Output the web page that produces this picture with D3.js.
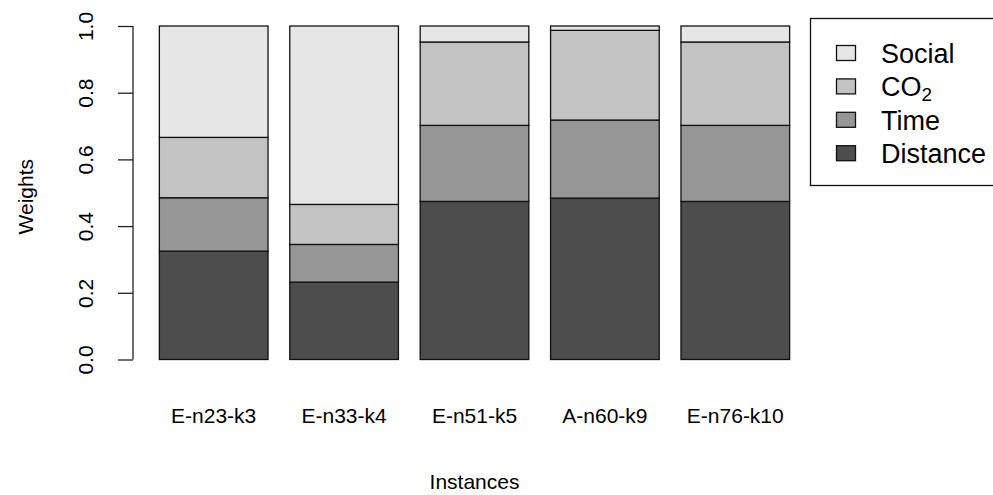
<!DOCTYPE html>
<html>
<head>
<meta charset="utf-8">
<script src="https://cdn.jsdelivr.net/npm/d3@7"></script>
<style>
  body { margin: 0; background: #fff; }
  text { font-family: "Liberation Sans", Arial, sans-serif; fill: #000; }
</style>
</head>
<body>
<div id="chart"></div>
<script>
// Data
const instances = ["E-n23-k3", "E-n33-k4", "E-n51-k5", "A-n60-k9", "E-n76-k10"];
const distance = [0.325, 0.232, 0.474, 0.484, 0.474];
const time = [0.160, 0.113, 0.228, 0.234, 0.228];
const co2 = [0.181, 0.120, 0.250, 0.269, 0.250];
const social = [0.334, 0.535, 0.048, 0.013, 0.048];
const yTicks = [0, 0.2, 0.4, 0.6, 0.8, 1.0];

const seriesKeys = ["Distance", "Time", "CO2", "Social"];
const seriesColors = ["#4d4d4d", "#969696", "#c3c3c3", "#e6e6e6"];

function main() {
    const width = 993, height = 495;

    const svg = d3.select("#chart")
        .append("svg")
        .attr("width", width)
        .attr("height", height);

    // Table for the stack layout
    const table = instances.map((name, i) => ({
        name: name,
        Distance: distance[i],
        Time: time[i],
        CO2: co2[i],
        Social: social[i]
    }));

    const stacked = d3.stack().keys(seriesKeys)(table);

    // Scales
    const x = d3.scaleBand()
        .domain(instances)
        .range([148.5, 800.5])
        .paddingInner(1 / 6)
        .paddingOuter(1 / 12);

    const y = d3.scaleLinear()
        .domain([0, 1])
        .range([359.5, 26]);

    const color = d3.scaleOrdinal().domain(seriesKeys).range(seriesColors);

    // Bars
    svg.append("g")
        .selectAll("g")
        .data(stacked)
        .join("g")
        .attr("fill", d => color(d.key))
        .selectAll("rect")
        .data(d => d)
        .join("rect")
        .attr("x", d => x(d.data.name))
        .attr("y", d => y(d[1]))
        .attr("width", x.bandwidth())
        .attr("height", d => y(d[0]) - y(d[1]))
        .attr("stroke", "#111")
        .attr("stroke-width", 1.3);

    // Y axis
    const yAxis = svg.append("g")
        .attr("transform", "translate(133,0)")
        .call(d3.axisLeft(y).tickValues(yTicks).tickSize(15).tickFormat(d3.format(".1f")));
    yAxis.select(".domain")
        .attr("stroke", "#222")
        .attr("stroke-width", 1.3)
        .attr("d", `M0,${y(0)}V${y(1)}`);
    yAxis.selectAll(".tick line").attr("stroke", "#222").attr("stroke-width", 1.3);
    yAxis.selectAll(".tick text")
        .attr("x", null).attr("dy", null)
        .attr("transform", "translate(-40,0) rotate(-90)")
        .attr("text-anchor", "middle")
        .style("font-size", "21px")
        .style("font-family", "'Liberation Sans', Arial, sans-serif")
        .attr("fill", "#000");

    // X labels (no axis line, as in the reference)
    svg.append("g")
        .selectAll("text")
        .data(instances)
        .join("text")
        .attr("x", d => x(d) + x.bandwidth() / 2)
        .attr("y", 422.5)
        .attr("text-anchor", "middle")
        .style("font-size", "21px")
        .text(d => d);

    // Axis titles
    const [r0, r1] = x.range();
    svg.append("text")
        .attr("x", (r0 + r1) / 2)
        .attr("y", 489)
        .attr("text-anchor", "middle")
        .style("font-size", "21px")
        .text("Instances");

    svg.append("text")
        .attr("transform", `translate(33,${y(0.5) + 4}) rotate(-90)`)
        .attr("text-anchor", "middle")
        .style("font-size", "21px")
        .text("Weights");

    // Legend
    const legend = svg.append("g");
    legend.append("rect")
        .attr("x", 810.5)
        .attr("y", 18.5)
        .attr("width", 200)
        .attr("height", 167)
        .attr("fill", "none")
        .attr("stroke", "#111")
        .attr("stroke-width", 1.3);

    const legendKeys = seriesKeys.slice().reverse();
    const rows = legend.selectAll("g.row")
        .data(legendKeys)
        .join("g")
        .attr("class", "row")
        .attr("transform", (d, i) => `translate(0,${53 + i * 33.4})`);

    rows.append("rect")
        .attr("x", 836.5)
        .attr("y", -7.5)
        .attr("width", 19)
        .attr("height", 15)
        .attr("fill", d => color(d))
        .attr("stroke", "#111")
        .attr("stroke-width", 1.3);

    rows.append("text")
        .attr("x", 881)
        .attr("y", 10)
        .style("font-size", "27px")
        .each(function(d) {
            const t = d3.select(this);
            if (d === "CO2") {
                t.append("tspan").text("CO");
                t.append("tspan").attr("dy", 5).style("font-size", "19px").text("2");
            } else {
                t.text(d);
            }
        });
}

main();
</script>
</body>
</html>
